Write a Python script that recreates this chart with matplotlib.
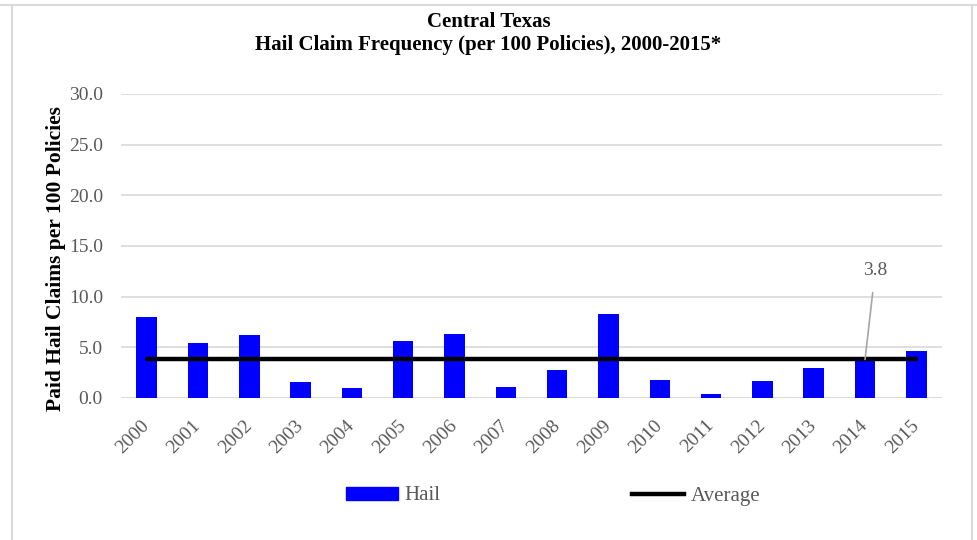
import matplotlib
matplotlib.use("Agg")
import matplotlib.pyplot as plt
from matplotlib.lines import Line2D
from matplotlib.patches import Patch
from matplotlib.transforms import ScaledTranslation

years = [str(y) for y in range(2000, 2016)]
hail = [8.0, 5.4, 6.2, 1.6, 1.0, 5.6, 6.3, 1.1, 2.8, 8.3, 1.8, 0.35, 1.7, 3.0, 4.0, 4.6]
average = 3.8
yticks = [0, 5, 10, 15, 20, 25, 30]

plt.rcParams['font.family'] = ['Liberation Serif', 'DejaVu Serif']

W, H = 977, 540
fig = plt.figure(figsize=(W / 100, H / 100), dpi=100)
ax = fig.add_axes([121 / W, 1 - 398 / H, (942 - 121) / W, (398 - 94) / H])

x = list(range(len(years)))
ax.bar(x, hail, width=0.4, color='#0000FF', zorder=2)
ax.plot([x[0], x[-1]], [average] * 2, color='black', lw=3.2, solid_capstyle='round', zorder=3)

ax.set_xlim(-0.5, len(years) - 0.5)
ax.set_ylim(0, 30)
ax.set_yticks(yticks)
ax.set_yticklabels([f"{v:.1f}" for v in yticks], color='#595959', fontsize=14)
ax.set_xticks(x)
ax.set_xticklabels(years, rotation=45, ha='right', va='center', rotation_mode='anchor',
                   color='#595959', fontsize=14)
shift = ScaledTranslation(3 / 100, 0, fig.dpi_scale_trans)
for lab in ax.get_xticklabels():
    lab.set_transform(lab.get_transform() + shift)
ax.tick_params(axis='y', length=0, pad=13)
ax.tick_params(axis='x', length=0, pad=18)
ax.yaxis.grid(True, color='#D9D9D9', lw=1.2, zorder=0)
ax.set_axisbelow(True)
for s in ax.spines.values():
    s.set_visible(False)
ax.axhline(0, color='#D9D9D9', lw=1.2, zorder=1)

ax.set_ylabel('Paid Hail Claims per 100 Policies', fontsize=15.5, fontweight='bold')
ax.yaxis.set_label_coords(-(121 - 66) / (942 - 121), 0.46)

fig.text(0.5, 1 - 22 / H, 'Central Texas', ha='center', va='center', fontsize=15, fontweight='bold')
fig.text(0.5, 1 - 45 / H, 'Hail Claim Frequency (per 100 Policies), 2000-2015*',
         ha='center', va='center', fontsize=15, fontweight='bold')

ax.annotate(f"{average:.1f}", xy=(14, average), xytext=(14.2, 12.6),
            ha='center', va='center', fontsize=14, color='#595959',
            arrowprops=dict(arrowstyle='-', color='#A6A6A6', lw=1.2, shrinkA=8, shrinkB=0))

handles = [Patch(color='#0000FF'), Line2D([], [], color='black', lw=3.2)]
fig.legend(handles, ['Hail', 'Average'], loc='center', bbox_to_anchor=(553 / W, 1 - 496 / H),
           ncol=2, frameon=False, fontsize=15, handlelength=2.5, handleheight=0.6,
           columnspacing=9.2, handletextpad=0.3, labelcolor='#595959')

border = dict(color='#D9D9D9', lw=1.5, transform=fig.transFigure)
fig.add_artist(Line2D([0, 1], [1 - 5 / H] * 2, **border))
fig.add_artist(Line2D([12 / W] * 2, [0, 1 - 5 / H], **border))
fig.add_artist(Line2D([972 / W] * 2, [0, 1 - 5 / H], **border))

fig.savefig('out.png', dpi=100)
